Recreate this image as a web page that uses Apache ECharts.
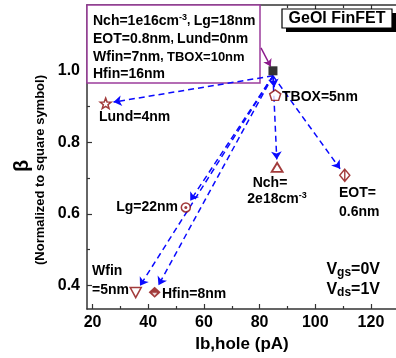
<!DOCTYPE html>
<html>
<head>
<meta charset="utf-8">
<script src="https://cdn.jsdelivr.net/npm/echarts@6.0.0/dist/echarts.min.js"></script>
<style>html,body{margin:0;padding:0;background:#fff}#c{width:396px;height:358px}</style>
</head>
<body>
<div id="c"></div>
<script>
// ---- data ----
const refPoint = [84.8, 1.0];                 // square symbol (Nch=1e16, Lg=18nm ...)
const pointNames = ['TBOX=5nm', 'Lund=4nm', 'Nch=2e18', 'EOT=0.6nm', 'Lg=22nm', 'Wfin=5nm', 'Hfin=8nm'];
const ibHole = [85.6, 24.7, 86.3, 110.6, 53.5, 35.5, 42.3];
const betaNorm = [0.932, 0.909, 0.730, 0.708, 0.618, 0.380, 0.381];
const boxArrowStart = [80.5, 1.064];
const xMajor = [20, 40, 60, 80, 100, 120];
const xMinor = [30, 50, 70, 90, 110, 130];
const yMajor = [0.4, 0.6, 0.8, 1.0];
const yMinor = [0.5, 0.7, 0.9, 1.1];

// ---- styles ----
const FONT = '"Liberation Sans", Arial, sans-serif';
const RED = '#8b0a0a';
const AX = '#333';
const pt = i => [ibHole[i], betaNorm[i]];

const chart = echarts.init(document.getElementById('c'));

function xAx(pos, ticks, len, showLine, showLabel) {
  return {
    type: 'value', min: 18, max: 129, position: pos,
    axisLine: { show: showLine, onZero: false, lineStyle: { color: AX, width: 1.5 } },
    axisTick: { show: true, inside: true, length: len, customValues: ticks, lineStyle: { color: AX, width: 1.2 } },
    axisLabel: { show: showLabel, customValues: xMajor, color: '#000', fontSize: 16, fontWeight: 'bold', fontFamily: FONT, margin: 6 },
    splitLine: { show: false }
  };
}
function yAx(ticks, len, showLine, showLabel) {
  return {
    type: 'value', min: 0.334, max: 1.184, position: 'left',
    axisLine: { show: showLine, onZero: false, lineStyle: { color: AX, width: 1.5 } },
    axisTick: { show: true, inside: true, length: len, customValues: ticks, lineStyle: { color: AX, width: 1.2 } },
    axisLabel: { show: showLabel, customValues: yMajor, formatter: v => v.toFixed(1), color: '#000', fontSize: 16, fontWeight: 'bold', fontFamily: FONT, margin: 7 },
    splitLine: { show: false }
  };
}

function scat(i, symbol, size, style, extra) {
  return Object.assign({
    type: 'scatter', xAxisIndex: 0, yAxisIndex: 0, symbol: symbol, symbolSize: size,
    data: [pt(i)], itemStyle: style, z: 5, silent: true, animation: false
  }, extra || {});
}
const hollow = { color: '#fff', borderColor: RED, borderWidth: 1.5 };

const PENT = 'path://M0,-1 L0.951,-0.309 L0.588,0.809 L-0.588,0.809 L-0.951,-0.309 Z';
const STAR = 'path://M0,-1 L0.247,-0.34 L0.951,-0.309 L0.399,0.13 L0.588,0.809 L0,0.42 L-0.588,0.809 L-0.399,0.13 L-0.951,-0.309 L-0.247,-0.34 Z';
const TRI_UP = 'path://M0,0 L1,1.5 L-1,1.5 Z';
const TRI_DN = 'path://M-1,0 L1,0 L0,1.6 Z';
const DIA_V = 'path://M0,-1 L0.8,0 L0,1 L-0.8,0 Z M0,-1 L0,1';

function txt(x, y, rich, text, align, extra) {
  return Object.assign({
    type: 'text', x: x, y: y, z: 50,
    style: {
      text: text, rich: rich, align: align || 'left', verticalAlign: 'middle',
      fontFamily: FONT, fontWeight: 'bold', fontSize: 14, fill: '#000'
    }
  }, extra || {});
}
const NAVY = '#1f2a86';
const boxRich = {
  m: { fontSize: 14, fontWeight: 'bold', fontFamily: FONT, color: NAVY, lineHeight: 16 },
  s: { fontSize: 12, fontWeight: 'bold', fontFamily: FONT, color: NAVY, lineHeight: 16 },
  t: { fontSize: 13, fontWeight: 'bold', fontFamily: FONT, color: NAVY, lineHeight: 16 },
  sup: { fontSize: 9, fontWeight: 'bold', fontFamily: FONT, color: NAVY, lineHeight: 9, verticalAlign: 'top' }
};
const blkRich = {
  m: { fontSize: 14, fontWeight: 'bold', fontFamily: FONT, color: '#000', lineHeight: 16 },
  sup: { fontSize: 9, fontWeight: 'bold', fontFamily: FONT, color: '#000', lineHeight: 9, verticalAlign: 'top' },
  v: { fontSize: 16, fontWeight: 'bold', fontFamily: FONT, color: '#000', lineHeight: 18 },
  sub: { fontSize: 12, fontWeight: 'bold', fontFamily: FONT, color: '#000', lineHeight: 12, verticalAlign: 'bottom' }
};

const option = {
  animation: false,
  grid: { left: 87, top: 5, right: 0, bottom: 49, containLabel: false },
  xAxis: [
    xAx('bottom', xMajor, 5, true, true),
    xAx('bottom', xMinor, 3, false, false),
    xAx('top', xMajor, 5, true, false),
    xAx('top', xMinor, 3, false, false)
  ],
  yAxis: [
    yAx(yMajor, 5, true, true),
    yAx(yMinor, 3, false, false)
  ],
  graphic: { elements: [
    { type: 'rect', shape: { x: 87, y: 5, width: 173, height: 78 }, z: 1,
      style: { fill: '#fff', stroke: '#9c3c9c', lineWidth: 1.5 } },
    txt(93, 21, boxRich, '{m|Nch=1e16cm}{sup|-3}{s|, }{m|Lg=18nm}'),
    txt(93, 39, boxRich, '{m|EOT=0.8nm}{s|, }{m|Lund=0nm}'),
    txt(93, 57, boxRich, '{m|Wfin=7nm}{s|, }{t|TBOX=10nm}'),
    txt(93, 74, boxRich, '{m|Hfin=16nm}'),
    { type: 'rect', shape: { x: 286, y: 13, width: 110, height: 19 }, z: 40, style: { fill: '#000' } },
    { type: 'rect', shape: { x: 282, y: 9, width: 110, height: 19 }, z: 41, style: { fill: '#fff', stroke: '#000', lineWidth: 1.2 } },
    txt(337, 19, null, 'GeOI FinFET', 'center', { z: 42, style: { text: 'GeOI FinFET', align: 'center', verticalAlign: 'middle', fontFamily: FONT, fontWeight: 'bold', fontSize: 16, fill: '#000' } }),
    txt(282, 97, blkRich, '{m|TBOX=5nm}'),
    txt(99, 117, blkRich, '{m|Lund=4nm}'),
    txt(270, 183, blkRich, '{m|Nch=}', 'center'),
    txt(277, 199, blkRich, '{m|2e18cm}{sup|-3}', 'center'),
    txt(339, 193, blkRich, '{m|EOT=}'),
    txt(339, 212, blkRich, '{m|0.6nm}'),
    txt(178, 207, blkRich, '{m|Lg=22nm}', 'right'),
    txt(92, 271, blkRich, '{m|Wfin}'),
    txt(92, 290, blkRich, '{m|=5nm}'),
    txt(162, 294, blkRich, '{m|Hfin=8nm}'),
    txt(380, 270, blkRich, '{v|V}{sub|gs}{v|=0V}', 'right'),
    txt(380, 290, blkRich, '{v|V}{sub|ds}{v|=1V}', 'right'),
    txt(242, 344, null, 'Ib,hole (pA)', 'center', { style: { text: 'Ib,hole (pA)', align: 'center', verticalAlign: 'middle', fontFamily: FONT, fontWeight: 'bold', fontSize: 17, fill: '#000' } }),
    { type: 'text', x: 22, y: 166, rotation: Math.PI / 2, z: 50,
      style: { text: 'β', align: 'center', verticalAlign: 'middle', fontFamily: FONT, fontWeight: 'bold', fontSize: 20, fill: '#000' } },
    { type: 'text', x: 40, y: 170, rotation: Math.PI / 2, z: 50,
      style: { text: '(Normalized to square symbol)', align: 'center', verticalAlign: 'middle', fontFamily: FONT, fontWeight: 'bold', fontSize: 13, fill: '#000' } }
  ] },
  series: [
    { id: 'arrows', type: 'lines', coordinateSystem: 'cartesian2d', xAxisIndex: 0, yAxisIndex: 0,
      data: [], symbol: ['none', 'arrow'], symbolSize: 8, z: 3, silent: true,
      lineStyle: { color: '#0a0aff', width: 1.5, type: [6, 4], opacity: 1 } },
    { id: 'boxArrow', type: 'lines', coordinateSystem: 'cartesian2d', xAxisIndex: 0, yAxisIndex: 0,
      data: [], symbol: ['none', 'arrow'], symbolSize: 7, z: 3, silent: true,
      lineStyle: { color: '#8b1a8b', width: 1.4, type: 'solid', opacity: 1 } },
    { type: 'scatter', xAxisIndex: 0, yAxisIndex: 0, symbol: 'rect', symbolSize: 9, data: [refPoint],
      itemStyle: { color: '#000' }, z: 5, silent: true },
    scat(0, PENT, [11, 10.5], hollow),
    scat(1, STAR, [11, 10.5], hollow),
    scat(2, TRI_UP, [11, 9], Object.assign({}, hollow, { borderWidth: 1.8 })),
    scat(3, DIA_V, [10, 12], hollow),
    scat(4, 'circle', 9, hollow),
    scat(4, 'circle', 3, { color: RED }, { z: 6 }),
    scat(5, TRI_DN, [11, 10], hollow),
    scat(6, 'diamond', [12, 11], { color: RED }),
    scat(6, 'path://M-1,0 L1,0 L0,1 Z', [5, 3], { color: '#fff' }, { z: 6, symbolOffset: [0, 2] })
  ]
};
chart.setOption(option);

// arrows: computed through the axis scales, shortened in pixel space
const ref = { xAxisIndex: 0, yAxisIndex: 0 };
function arrow(from, to, startShift, endShort) {
  const a = chart.convertToPixel(ref, from);
  const b = chart.convertToPixel(ref, to);
  const s = [a[0] + startShift[0], a[1] + startShift[1]];
  const dx = b[0] - s[0], dy = b[1] - s[1];
  const L = Math.sqrt(dx * dx + dy * dy);
  const e = [b[0] - dx / L * endShort, b[1] - dy / L * endShort];
  return { coords: [chart.convertFromPixel(ref, s), chart.convertFromPixel(ref, e)] };
}
const arrowData = pointNames.map((n, i) => arrow(refPoint, pt(i), [0, 5], 8));
const boxData = [arrow(boxArrowStart, refPoint, [0, 0], 5)];
chart.setOption({ series: [{ id: 'arrows', data: arrowData }, { id: 'boxArrow', data: boxData }] });
</script>
</body>
</html>
